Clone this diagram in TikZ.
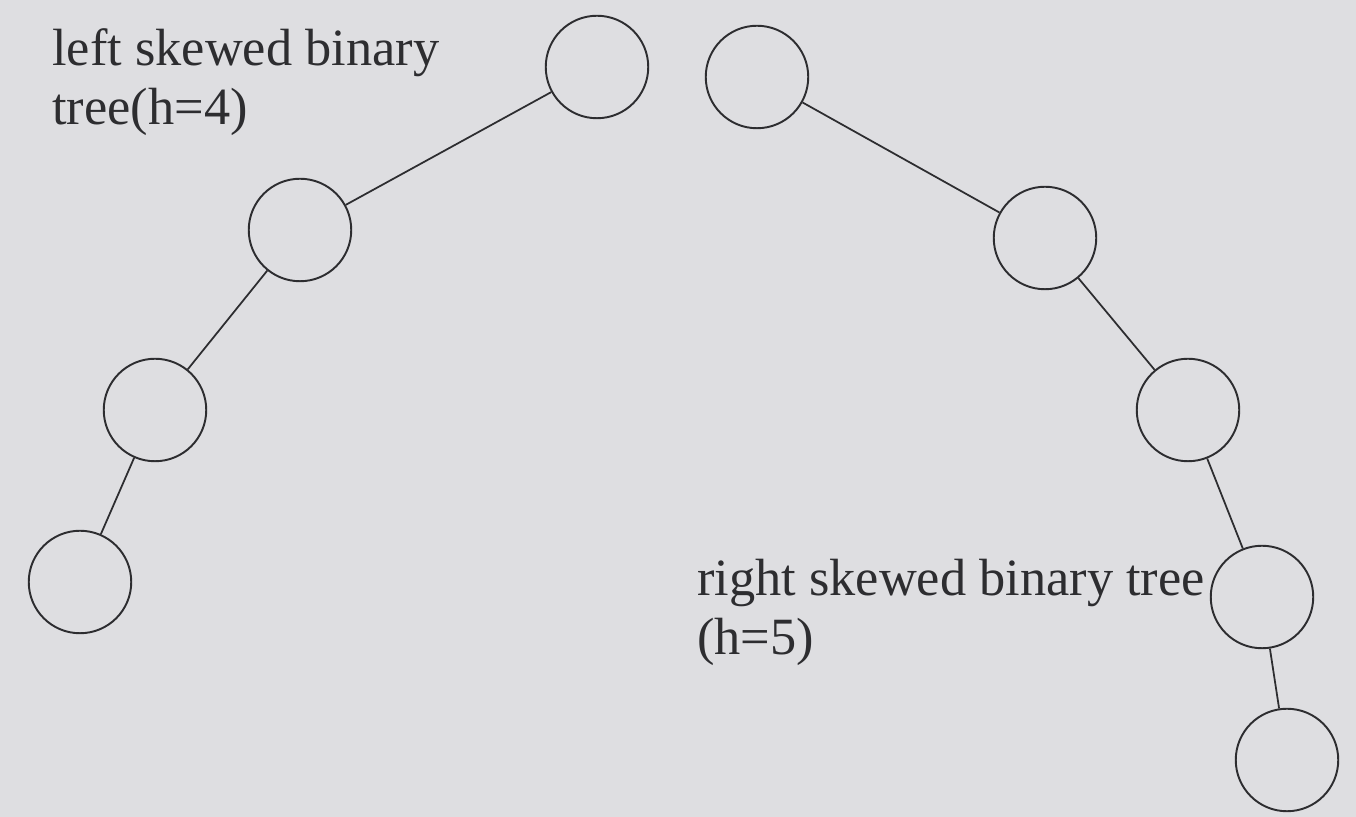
\documentclass[tikz,border=0pt]{standalone}
\usepackage{fontspec}
\setmainfont{Liberation Serif}
\usepackage{tikz}

\begin{document}
\begin{tikzpicture}
% Define page colours
\definecolor{paper}{RGB}{222,222,225}
\definecolor{ink}{RGB}{45,45,48}
\tikzset{
  treenode/.style={draw=ink,line width=1.1pt,circle,minimum size=2.05cm,inner sep=0pt},
  treeedge/.style={draw=ink,line width=1pt},
  caption/.style={text=ink,font=\fontsize{29.8}{34}\selectfont,inner sep=0pt,align=left}
}

% Page background
\fill[paper] (0,0) rectangle (27.12,16.34);
\useasboundingbox (0,0) rectangle (27.12,16.34);

% Draw left skewed tree
\node[treenode] (l1) at (11.94,15.0) {};
\node[treenode] (l2) at (6.0,11.74) {};
\node[treenode] (l3) at (3.1,8.14) {};
\node[treenode] (l4) at (1.6,4.7) {};

% Draw right skewed tree
\node[treenode] (r1) at (15.14,14.8) {};
\node[treenode] (r2) at (20.9,11.58) {};
\node[treenode] (r3) at (23.76,8.14) {};
\node[treenode] (r4) at (25.24,4.4) {};
\node[treenode] (r5) at (25.74,1.14) {};

% Add edges
\draw[treeedge] (l1) -- (l2);
\draw[treeedge] (l2) -- (l3);
\draw[treeedge] (l3) -- (l4);
\draw[treeedge] (r1) -- (r2);
\draw[treeedge] (r2) -- (r3);
\draw[treeedge] (r3) -- (r4);
\draw[treeedge] (r4) -- (r5);

% Add captions
\node[caption,anchor=base west] (leftcap) at (1.04,13.84) {left skewed binary\\tree(h=4)};
\node[caption,anchor=base west] (rightcap) at (13.94,3.24) {right skewed binary tree\\(h=5)};
\end{tikzpicture}
\end{document}
